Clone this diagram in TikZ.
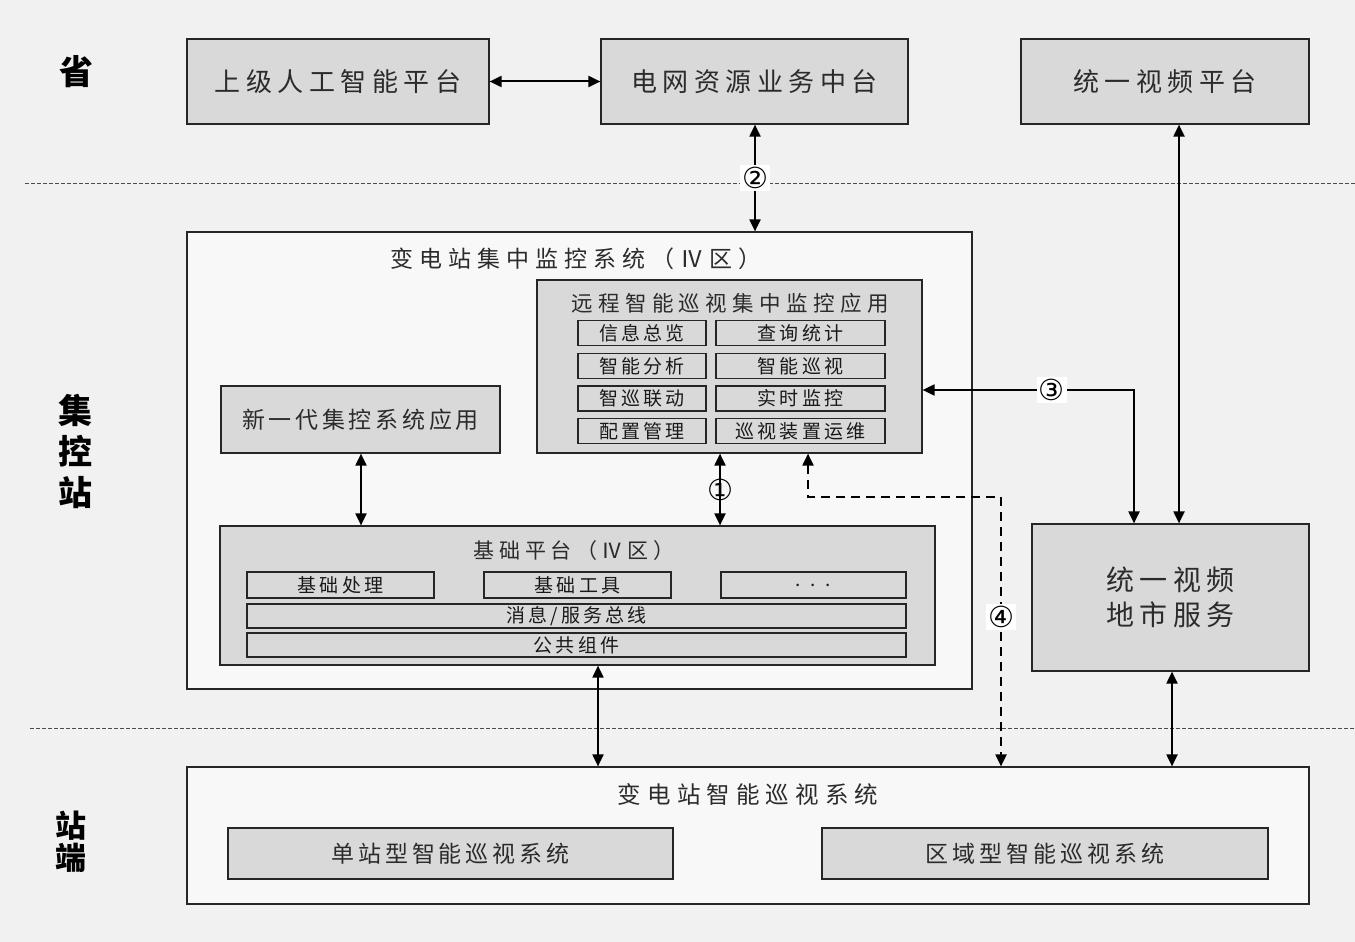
\documentclass[tikz,border=0pt]{standalone}
\usepackage{fontspec}
\setmainfont{Noto Sans CJK SC}
\newfontfamily\dvs{DejaVu Sans}
\usetikzlibrary{arrows.meta}
\definecolor{boxgray}{HTML}{D9D9D9}
\definecolor{bglight}{HTML}{F1F1F1}
\definecolor{paleface}{HTML}{F8F8F8}
\definecolor{txt}{HTML}{2B2B2B}
\definecolor{edge}{HTML}{262626}
\newcommand\fTop{\fontsize{26}{30}\selectfont\addfontfeature{LetterSpace=21}}
\newcommand\fBig{\fontsize{23}{27}\selectfont\addfontfeature{LetterSpace=26}}
\newcommand\fRem{\fontsize{21.5}{25}\selectfont\addfontfeature{LetterSpace=25}}
\newcommand\fSub{\fontsize{19}{21}\selectfont\addfontfeature{LetterSpace=16}}
\newcommand\fNew{\fontsize{23}{27}\selectfont\addfontfeature{LetterSpace=16}}
\newcommand\fBase{\fontsize{21}{25}\selectfont\addfontfeature{LetterSpace=22}}
\newcommand\fVid{\fontsize{28}{35}\selectfont\addfontfeature{LetterSpace=18}}
\newcommand\fSta{\fontsize{23.5}{27}\selectfont\addfontfeature{LetterSpace=26}}
\newcommand\fStb{\fontsize{23}{27}\selectfont\addfontfeature{LetterSpace=17}}
\newcommand\fSideA{\fontsize{34}{41}\selectfont\bfseries}
\newcommand\fSideB{\fontsize{31}{32}\selectfont\bfseries}
\begin{document}
\begin{tikzpicture}[x=1pt,y=-1pt,
  >={Triangle[length=12pt,width=11pt]},
  gbox/.style={draw=edge,line width=1.2pt,fill=boxgray,inner sep=0pt,text=txt},
  wbox/.style={draw=edge,line width=1.2pt,fill=paleface,inner sep=0pt},
  subbox/.style={draw=edge,line width=1.2pt,fill=boxgray,inner sep=0pt,text=black!90,font=\fSub},
  title/.style={inner sep=0pt,text=txt},
  conn/.style={<->,line width=2pt,draw=black},
  dconn/.style={<->,line width=2pt,draw=black,dash pattern=on 9pt off 6pt},
  numlab/.style={fill=white,inner sep=2pt,text=black,font=\dvs\fontsize{29}{29}\selectfont},
  sidelab/.style={inner sep=0pt,text=black,align=center},
  sep/.style={line width=1pt,draw=black!70,dash pattern=on 4pt off 2pt}
]
\useasboundingbox (0,0) rectangle (1355,942);
\fill[bglight] (0,0) rectangle (1355,942);

% separators
\draw[sep] (25,183) -- (1355,183);
\draw[sep] (30,728) -- (1355,728);

% side labels
\node[sidelab,font=\fSideA] (lvP) at (76,72) {省};
\node[sidelab,font=\fSideA] (lvC) at (75,451) {集\\控\\站};
\node[sidelab,font=\fSideB] (lvS) at (71,842) {站\\端};

% province
\node[gbox,minimum width=302,minimum height=85,font=\fTop] (A) at (338,81.5) {上级人工智能平台};
\node[gbox,minimum width=307,minimum height=85,font=\fTop] (B) at (754.5,81.5) {电网资源业务中台};
\node[gbox,minimum width=288,minimum height=85,font=\fTop] (C) at (1165,81.5) {统一视频平台};

% centralized control station
\node[wbox,minimum width=785,minimum height=457] (Big) at (579.5,460.5) {};
\node[title,font=\fBig] (BigT) at (576,259) {变电站集中监控系统（Ⅳ区）};

\node[gbox,minimum width=385,minimum height=173] (Rem) at (729.5,366.5) {};
\node[title,font=\fRem] (RemT) at (730,303) {远程智能巡视集中监控应用};
\node[subbox,minimum width=128,minimum height=25] (r1a) at (642,333) {信息总览};
\node[subbox,minimum width=169,minimum height=25] (r1b) at (800.5,333) {查询统计};
\node[subbox,minimum width=128,minimum height=25] (r2a) at (642,366) {智能分析};
\node[subbox,minimum width=169,minimum height=25] (r2b) at (800.5,366) {智能巡视};
\node[subbox,minimum width=128,minimum height=25] (r3a) at (642,398.5) {智巡联动};
\node[subbox,minimum width=169,minimum height=25] (r3b) at (800.5,398.5) {实时监控};
\node[subbox,minimum width=128,minimum height=25] (r4a) at (642,431) {配置管理};
\node[subbox,minimum width=169,minimum height=25] (r4b) at (800.5,431) {巡视装置运维};

\node[gbox,minimum width=279,minimum height=67,font=\fNew] (New) at (360.5,419.5) {新一代集控系统应用};

\node[gbox,minimum width=715,minimum height=139] (Base) at (577.5,595.5) {};
\node[title,font=\fBase] (BaseT) at (574,551) {基础平台（Ⅳ区）};
\node[subbox,minimum width=187,minimum height=26] (b1) at (340.5,585) {基础处理};
\node[subbox,minimum width=187,minimum height=26] (b2) at (577.5,585) {基础工具};
\node[subbox,minimum width=185,minimum height=26] (b3) at (813.5,585) {. . .};
\node[subbox,minimum width=659,minimum height=24] (b4) at (576.5,616) {消息/服务总线};
\node[subbox,minimum width=659,minimum height=24] (b5) at (576.5,645) {公共组件};

\node[gbox,minimum width=277,minimum height=147,font=\fVid,align=center] (Vid) at (1170.5,597.5) {统一视频\\地市服务};

% station
\node[wbox,minimum width=1122,minimum height=137] (Sta) at (748,835.5) {};
\node[title,font=\fSta] (StaT) at (748,794) {变电站智能巡视系统};
\node[gbox,minimum width=445,minimum height=51,font=\fStb] (S1) at (450.5,853.5) {单站型智能巡视系统};
\node[gbox,minimum width=446,minimum height=51,font=\fStb] (S2) at (1045,853.5) {区域型智能巡视系统};

% connectors
\draw[conn] (A.east) -- (B.west);
\draw[conn] (755,0 |- B.south) -- (755,0 |- Big.north)
  node[numlab,pos=0.5] (n2) {②};
\draw[conn] (361,0 |- New.south) -- (361,0 |- Base.north);
\draw[conn] (720,0 |- Rem.south) -- (720,0 |- Base.north)
  node[numlab,pos=0.5,fill=none] (n1) {①};
\draw[conn] (Rem.east |- 0,390) -- (1134,390) node[numlab,pos=0.61] (n3) {③} -- (1134,0 |- Vid.north);
\draw[conn] (1179,0 |- C.south) -- (1179,0 |- Vid.north);
\draw[conn] (1172,0 |- Vid.south) -- (1172,0 |- Sta.north);
\draw[conn] (598,0 |- Base.south) -- (598,0 |- Sta.north);
\draw[dconn] (808,0 |- Rem.south) -- (808,497) -- (1001,497) -- (1001,0 |- Sta.north);
\node[numlab] (n4) at (1001,617) {④};
\end{tikzpicture}
\end{document}
